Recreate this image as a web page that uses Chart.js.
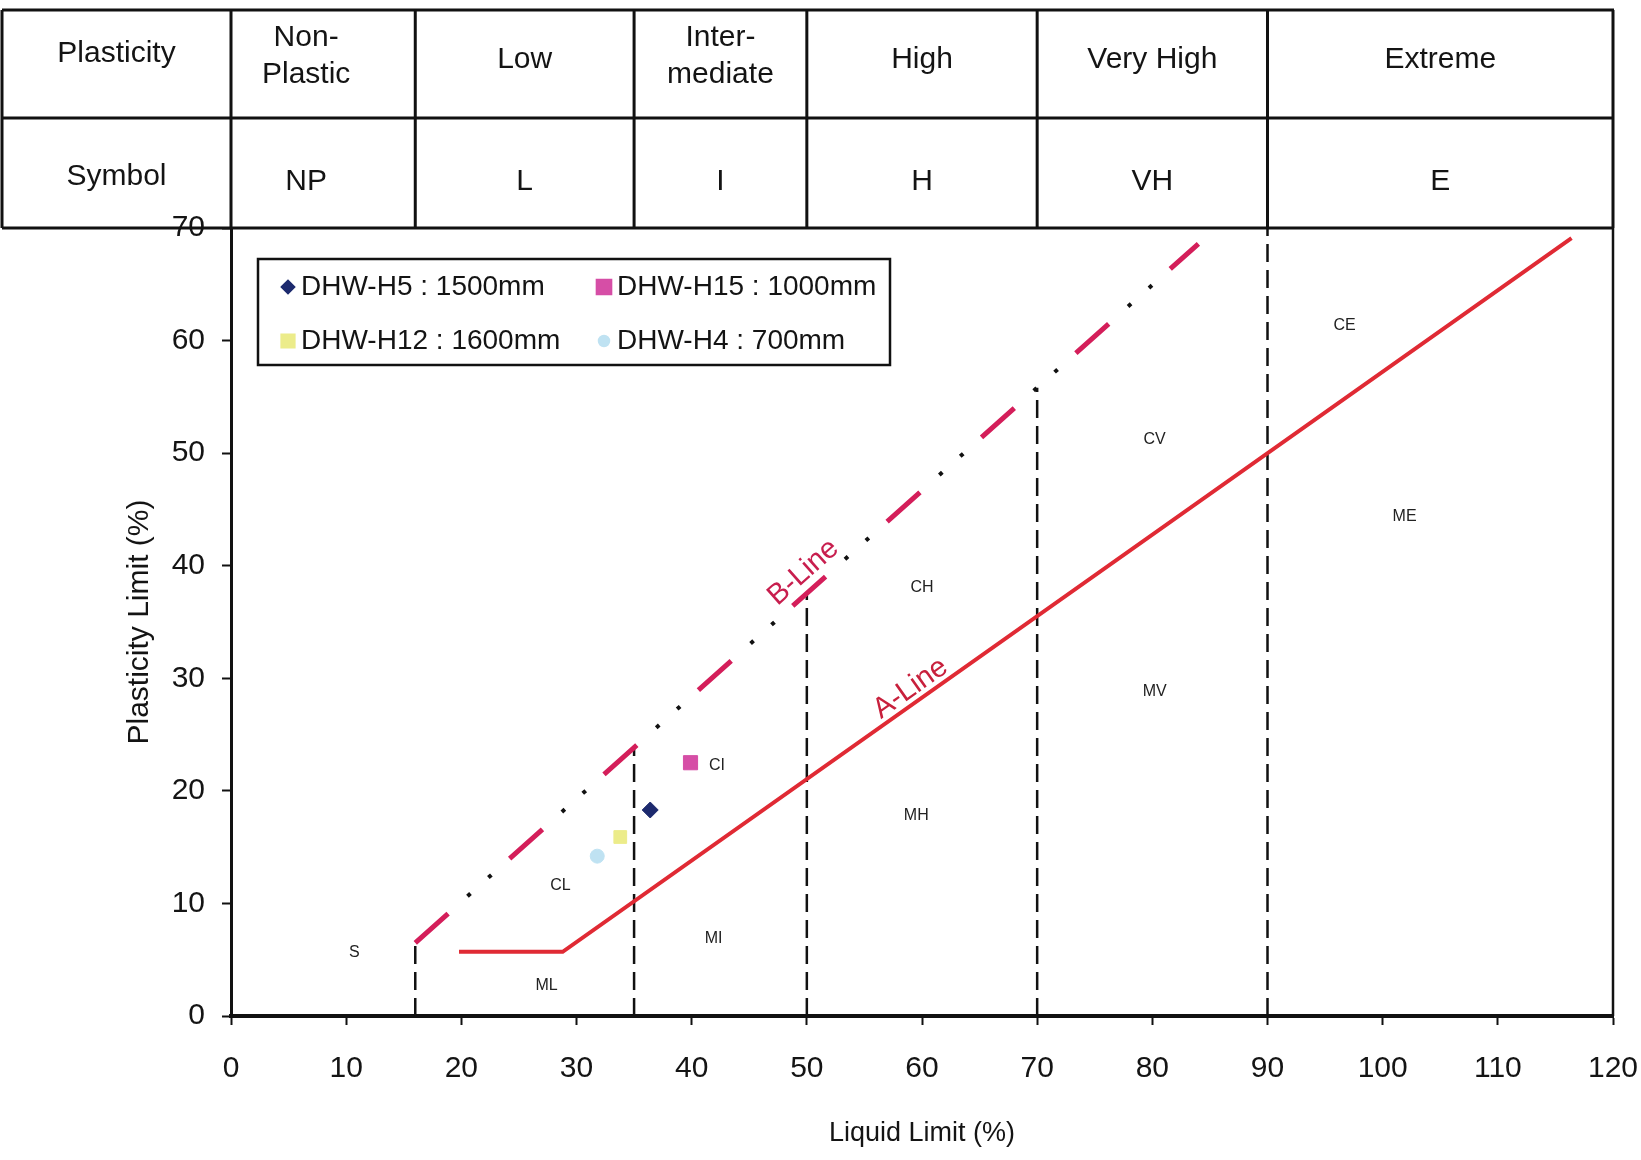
<!DOCTYPE html>
<html><head><meta charset="utf-8">
<script src="https://cdn.jsdelivr.net/npm/chart.js@4.4.1/dist/chart.umd.min.js"></script>
<style>html,body{margin:0;padding:0;background:#fff;}#wrap{width:1641px;height:1160px;position:relative}</style>
</head><body><div id="wrap"><canvas id="c" width="1641" height="1160"></canvas></div>
<script>
// ---------------- data ----------------
const classNames = ['Non-\nPlastic', 'Low', 'Inter-\nmediate', 'High', 'Very High', 'Extreme'];
const classSymbols = ['NP', 'L', 'I', 'H', 'VH', 'E'];
const classBounds = [0, 16, 35, 50, 70, 90, 120];

const seriesLabels = ['DHW-H5 : 1500mm', 'DHW-H15 : 1000mm', 'DHW-H12 : 1600mm', 'DHW-H4 : 700mm'];
const sampleLL = [36.4, 39.9, 33.8, 31.8];
const samplePI = [18.3, 22.5, 15.9, 14.2];

const aLineLL = [19.8, 28.8, 116.4];
const aLinePI = [5.7, 5.7, 69.1];
const bLineLL = [16, 84];
const bLinePI = [6.5, 68.6];

const boundaryLL = [16, 35, 50, 70, 90];
const boundaryTopPI = [6.5, 24.0, 37.5, 55.8, 70];

const zoneNames = ['S', 'ML', 'CL', 'MI', 'CI', 'MH', 'CH', 'MV', 'CV', 'ME', 'CE'];
const zoneLL = [10.7, 27.4, 28.6, 41.9, 42.2, 59.5, 60.0, 80.2, 80.2, 101.9, 96.7];
const zonePI = [5.6, 2.7, 11.6, 6.9, 22.2, 17.8, 38.1, 28.8, 51.2, 44.4, 61.3];

const lineLabels = ['A-Line', 'B-Line'];
const lineLabelLL = [59.0, 49.7];
const lineLabelPI = [29.1, 39.4];

// ---------------- styles ----------------
const pointColors = ['#1d2a6e', '#d64ea6', '#ecec8a', '#bfe2f2'];
const pointStyles = ['rectRot', 'rect', 'rect', 'circle'];
const pointSizes = [8, 10, 9, 7];
const RED_A = '#e02a34';
const RED_B = '#d41e5a';
const TXT = '#141414';
const narrow = "'Liberation Sans Narrow','Liberation Sans',Arial,sans-serif";
const sans = "'Liberation Sans',Arial,sans-serif";

const pts = (xs, ys) => xs.map((v, i) => ({x: v, y: ys[i]}));

const datasets = [];
seriesLabels.forEach((lab, i) => {
  datasets.push({
    label: lab,
    data: [{x: sampleLL[i], y: samplePI[i]}],
    pointStyle: pointStyles[i],
    pointRadius: pointSizes[i],
    pointBackgroundColor: pointColors[i],
    pointBorderColor: pointColors[i],
    pointBorderWidth: 1,
    showLine: false
  });
});
datasets.push({
  label: 'A-Line', data: pts(aLineLL, aLinePI), showLine: true, pointRadius: 0,
  borderColor: RED_A, borderWidth: 4, fill: false
});
datasets.push({
  label: 'B-Line', data: pts(bLineLL, bLinePI), showLine: true, pointRadius: 0,
  borderColor: RED_B, borderWidth: 5, borderDash: [44, 82.5], borderDashOffset: 0, fill: false
});
datasets.push({
  label: 'B-Line dots', data: pts(bLineLL, bLinePI), showLine: true, pointRadius: 0,
  borderColor: '#111', borderWidth: 4, borderDash: [4, 24, 4, 94.5], borderDashOffset: 56.5, fill: false
});
boundaryLL.forEach((b, i) => {
  datasets.push({
    label: 'bound' + b, data: [{x: b, y: 0}, {x: b, y: boundaryTopPI[i]}], showLine: true, pointRadius: 0,
    borderColor: '#111', borderWidth: 2.5, borderDash: [18, 8], fill: false
  });
});

const decor = {
  id: 'decor',
  beforeDatasetsDraw(chart) {
    const {ctx, chartArea: ca, scales: {x, y}} = chart;
    ctx.save();
    const tTop = 10, tMid = 118, tBot = ca.top, left = 2;
    ctx.strokeStyle = '#111';
    ctx.lineWidth = 3;
    ctx.beginPath();
    ctx.moveTo(left, tTop); ctx.lineTo(ca.right + 1, tTop);
    ctx.moveTo(left, tMid); ctx.lineTo(ca.right + 1, tMid);
    ctx.moveTo(left, tBot); ctx.lineTo(ca.right + 1, tBot);
    ctx.moveTo(left, tTop); ctx.lineTo(left, tBot);
    classBounds.forEach(b => {
      const px = x.getPixelForValue(b);
      ctx.moveTo(px, tTop); ctx.lineTo(px, tBot);
    });
    ctx.stroke();
    // right border of plot
    ctx.lineWidth = 2.5;
    ctx.beginPath();
    ctx.moveTo(ca.right, ca.top); ctx.lineTo(ca.right, ca.bottom);
    ctx.stroke();

    // table text
    ctx.fillStyle = TXT;
    ctx.font = '30px ' + sans;
    ctx.textAlign = 'center';
    ctx.textBaseline = 'middle';
    const firstCx = (left + x.getPixelForValue(0)) / 2;
    ctx.fillText('Plasticity', firstCx, 54);
    ctx.fillText('Symbol', firstCx, 177);
    for (let i = 0; i < classNames.length; i++) {
      let cx = (x.getPixelForValue(classBounds[i]) + x.getPixelForValue(classBounds[i + 1])) / 2;
      if (i === 0) cx -= 17;
      const lines = classNames[i].split('\n');
      if (lines.length === 2) {
        ctx.fillText(lines[0], cx, 38);
        ctx.fillText(lines[1], cx, 75);
      } else {
        ctx.fillText(lines[0], cx, 60);
      }
      ctx.fillText(classSymbols[i], cx, 182);
    }

    // zone labels
    ctx.font = '16px ' + sans;
    ctx.fillStyle = '#222';
    zoneNames.forEach((z, i) => {
      ctx.fillText(z, x.getPixelForValue(zoneLL[i]), y.getPixelForValue(zonePI[i]));
    });
    ctx.restore();
  },
  afterDatasetsDraw(chart) {
    const {ctx, chartArea: ca, scales: {x, y}} = chart;
    ctx.save();
    // line labels rotated along lines
    const lineDefs = [[aLineLL, aLinePI, 1, 2], [bLineLL, bLinePI, 0, 1]];
    ctx.font = '29px ' + sans;
    ctx.textAlign = 'center';
    ctx.textBaseline = 'middle';
    lineLabels.forEach((lab, i) => {
      const [xs, ys, a, b] = lineDefs[i];
      const dx = x.getPixelForValue(xs[b]) - x.getPixelForValue(xs[a]);
      const dy = y.getPixelForValue(ys[b]) - y.getPixelForValue(ys[a]);
      const ang = Math.atan2(dy, dx);
      ctx.save();
      ctx.translate(x.getPixelForValue(lineLabelLL[i]), y.getPixelForValue(lineLabelPI[i]));
      ctx.rotate(ang);
      ctx.fillStyle = i === 0 ? '#c8203c' : '#c81e4e';
      ctx.fillText(lab, 0, 0);
      ctx.restore();
    });

    // legend
    const lx = ca.left + 27, ly = ca.top + 31, lw = 632, lh = 106;
    ctx.fillStyle = '#fff';
    ctx.fillRect(lx, ly, lw, lh);
    ctx.strokeStyle = '#111';
    ctx.lineWidth = 2.5;
    ctx.strokeRect(lx, ly, lw, lh);
    ctx.font = '28px ' + sans;
    ctx.textAlign = 'left';
    ctx.textBaseline = 'middle';
    const colX = [lx + 30, lx + 346];
    const rowY = [ly + 28, ly + 82];
    const legendMarkerSize = [6, 7, 6, 5];
    seriesLabels.forEach((lab, i) => {
      const mx = colX[i % 2], my = rowY[Math.floor(i / 2)];
      ctx.fillStyle = pointColors[i];
      ctx.strokeStyle = pointColors[i];
      Chart.helpers.drawPoint(ctx, {pointStyle: pointStyles[i], radius: legendMarkerSize[i] + (pointStyles[i] === 'rect' ? 3 : 0), borderWidth: 1}, mx, my);
      ctx.fill();
      ctx.fillStyle = TXT;
      ctx.fillText(lab, mx + 13, my);
    });
    ctx.restore();
  }
};

new Chart(document.getElementById('c'), {
  type: 'scatter',
  data: {datasets},
  options: {
    responsive: false,
    animation: false,
    devicePixelRatio: 1,
    layout: {padding: {top: 228, right: 28, left: 0, bottom: 0}},
    plugins: {legend: {display: false}, tooltip: {enabled: false}},
    elements: {line: {tension: 0}},
    scales: {
      x: {
        type: 'linear', min: 0, max: 120,
        ticks: {stepSize: 10, color: TXT, font: {family: narrow, size: 30, lineHeight: 2.8}, padding: 2, maxRotation: 0},
        grid: {display: true, drawOnChartArea: false, drawTicks: true, tickLength: 9, tickWidth: 2, tickColor: '#111'},
        border: {display: true, color: '#111', width: 4},
        title: {display: true, text: 'Liquid Limit (%)', color: TXT, font: {family: sans, size: 27}, padding: {top: 0, bottom: 10}},
        afterFit(scale) { scale.height = 144; }
      },
      y: {
        type: 'linear', min: 0, max: 70,
        ticks: {stepSize: 10, color: TXT, font: {family: narrow, size: 30}, padding: 17},
        grid: {display: true, drawOnChartArea: false, drawTicks: true, tickLength: 9, tickWidth: 2, tickColor: '#111'},
        border: {display: true, color: '#111', width: 3},
        title: {display: true, text: 'Plasticity Limit (%)', color: TXT, font: {family: sans, size: 30}, padding: {top: 122, bottom: 0}},
        afterFit(scale) { scale.width = 231; }
      }
    }
  },
  plugins: [decor]
});
</script>
</body></html>
